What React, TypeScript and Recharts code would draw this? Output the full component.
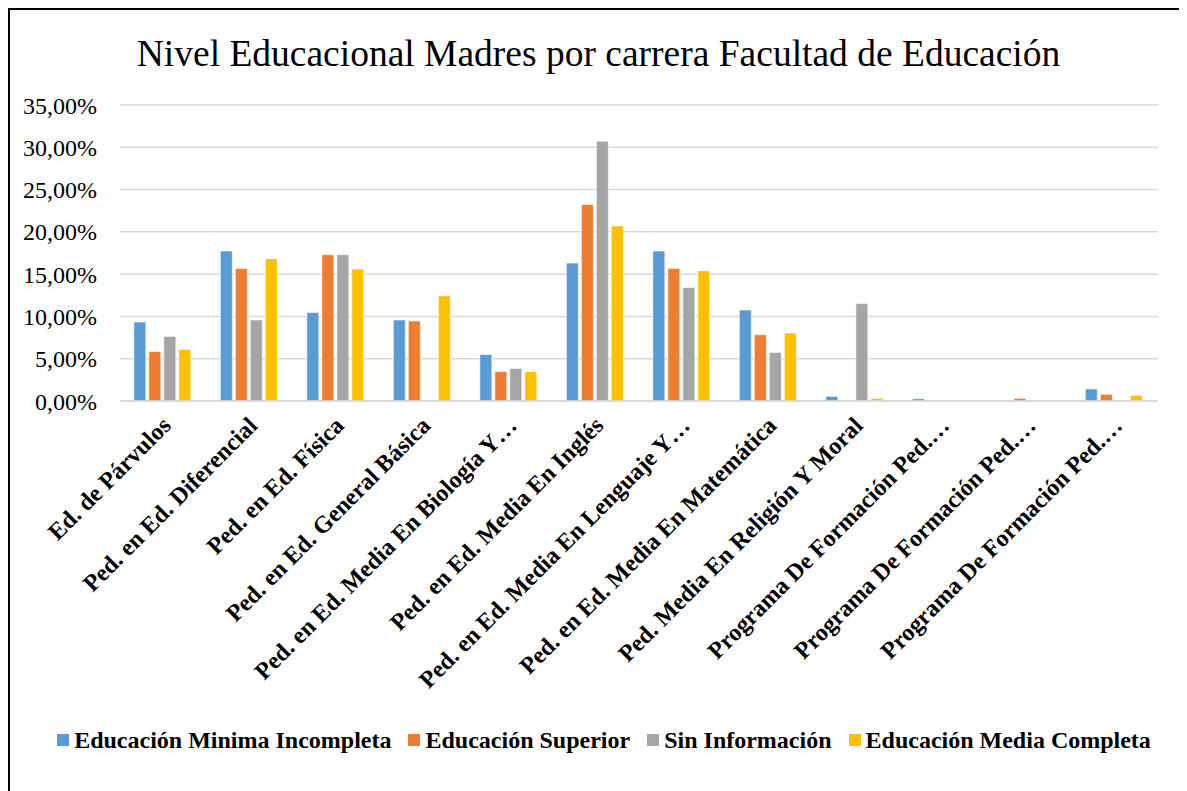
import React from "react";
import { BarChart, Bar, XAxis, YAxis, CartesianGrid, Legend } from "recharts";

const categories = [
  "Ed. de Párvulos",
  "Ped. en Ed. Diferencial",
  "Ped. en Ed. Física",
  "Ped. en Ed. General Básica",
  "Ped. en Ed. Media En Biología Y…",
  "Ped. en Ed. Media En Inglés",
  "Ped. en Ed. Media En Lenguaje Y…",
  "Ped. en Ed. Media En Matemática",
  "Ped. Media En Religión Y Moral",
  "Programa De Formación Ped.…",
  "Programa De Formación Ped.…",
  "Programa De Formación Ped.…",
];

const minimaIncompleta = [9.34, 17.74, 10.45, 9.58, 5.5, 16.31, 17.74, 10.77, 0.55, 0.28, 0, 1.43];
const superior = [5.86, 15.68, 17.3, 9.46, 3.48, 23.24, 15.68, 7.84, 0, 0, 0.32, 0.79];
const sinInformacion = [7.64, 9.58, 17.3, 0, 3.84, 30.72, 13.42, 5.74, 11.52, 0, 0, 0];
const mediaCompleta = [6.1, 16.83, 15.6, 12.43, 3.48, 20.7, 15.4, 8.04, 0.32, 0, 0, 0.67];

const yTicks = [0, 5, 10, 15, 20, 25, 30, 35];

const seriesNames = [
  "Educación Minima Incompleta",
  "Educación Superior",
  "Sin Información",
  "Educación Media Completa",
];
const seriesKeys = ["minima", "superior", "sin", "media"];
const colors = ["#5B9BD5", "#ED7D31", "#A5A5A5", "#FFC000"];

const data = categories.map((c, i) => ({
  idx: i,
  name: c,
  minima: minimaIncompleta[i],
  superior: superior[i],
  sin: sinInformacion[i],
  media: mediaCompleta[i],
}));

const SERIF = '"Liberation Serif", "Times New Roman", serif';

const XTick = (props: any) => {
  const { x, y, payload } = props;
  const label = categories[payload.value] ?? "";
  const ax = x + 9;
  const ay = y + 26;
  return (
    <text
      x={ax}
      y={ay}
      transform={`rotate(-45, ${ax}, ${ay})`}
      textAnchor="end"
      fontFamily={SERIF}
      fontWeight="bold"
      fontSize={24}
      fill="#000"
    >
      {label}
    </text>
  );
};

const LegendContent = () => (
  <div
    style={{
      display: "flex",
      justifyContent: "center",
      alignItems: "center",
      height: 40,
      paddingLeft: 40,
      fontFamily: SERIF,
      fontWeight: "bold",
      fontSize: 24,
      color: "#000",
    }}
  >
    {seriesNames.map((n, i) => (
      <div key={n} style={{ display: "flex", alignItems: "center", marginRight: i < 3 ? 17 : 0 }}>
        <span style={{ width: 12, height: 12, background: colors[i], display: "inline-block", marginRight: 5 }} />
        <span>{n}</span>
      </div>
    ))}
  </div>
);

export default function App() {
  return (
    <div
      style={{
        position: "relative",
        width: 1177,
        height: 800,
        borderTop: "2px solid #000",
        borderLeft: "2px solid #000",
        borderRight: "1px solid #808080",
        background: "#fff",
      }}
    >
      <div
        style={{
          position: "absolute",
          top: 25,
          left: 0,
          width: 1177,
          textAlign: "center",
          fontFamily: SERIF,
          fontSize: 37.5,
          lineHeight: "37px",
          color: "#000",
        }}
      >
        Nivel Educacional Madres por carrera Facultad de Educación
      </div>
      <div style={{ position: "absolute", top: 0, left: 0 }}>
        <BarChart
          width={1170}
          height={780}
          data={data}
          margin={{ top: 95, right: 22, left: 0, bottom: 30 }}
          barCategoryGap="16%"
          barGap={3}
        >
          <CartesianGrid vertical={false} stroke="#d9d9d9" strokeWidth={1.5} />
          <XAxis
            dataKey="idx"
            type="category"
            height={319}
            interval={0}
            tickLine={false}
            tickSize={0}
            tickMargin={0}
            axisLine={{ stroke: "#d9d9d9", strokeWidth: 1.5 }}
            tick={<XTick />}
          />
          <YAxis
            width={110}
            domain={[0, 35]}
            ticks={yTicks}
            interval={0}
            axisLine={false}
            tickLine={false}
            tickSize={0}
            tickMargin={23}
            tickFormatter={(v: number) => v.toFixed(2).replace(".", ",") + "%"}
            tick={{ fontFamily: SERIF, fontSize: 24, fill: "#000" }}
          />
          <Legend verticalAlign="bottom" height={40} content={<LegendContent />} />
          {seriesKeys.map((k, i) => (
            <Bar
              key={k}
              dataKey={k}
              name={seriesNames[i]}
              fill={colors[i]}
              stroke="#ffffff"
              strokeWidth={0.6}
              isAnimationActive={false}
            />
          ))}
        </BarChart>
      </div>
    </div>
  );
}
